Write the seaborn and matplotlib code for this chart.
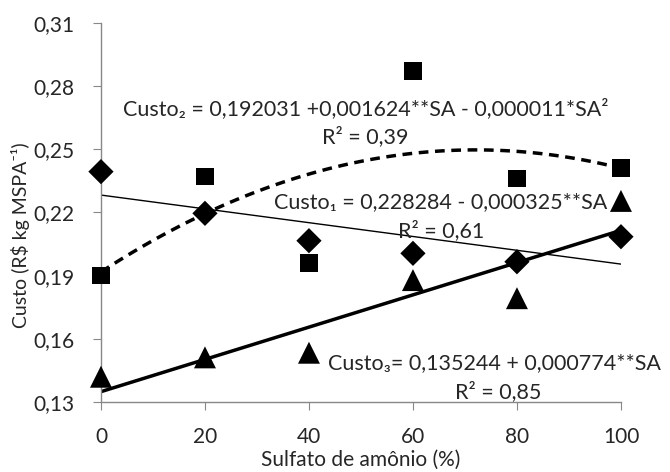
import matplotlib
matplotlib.use("Agg")
import matplotlib.pyplot as plt
import seaborn as sns
import pandas as pd

# Dose of ammonium sulfate (%)
sa = [0, 20, 40, 60, 80, 100]
# Custo (R$ kg MSPA-1)
custo1 = [0.2394, 0.2196, 0.2066, 0.2006, 0.1966, 0.2085]
custo2 = [0.190, 0.2370, 0.1959, 0.2873, 0.2362, 0.2412]
custo3 = [0.1420, 0.1512, 0.1534, 0.1879, 0.1793, 0.2255]

y_ticks = [0.13, 0.16, 0.19, 0.22, 0.25, 0.28, 0.31]
eq1 = "Custo\u2081 = 0,228284 - 0,000325**SA"
eq2 = "Custo\u2082 = 0,192031 +0,001624**SA - 0,000011*SA\u00b2"
eq3 = "Custo\u2083= 0,135244 + 0,000774**SA"
r1, r2, r3 = "R\u00b2 = 0,61", "R\u00b2 = 0,39", "R\u00b2 = 0,85"

df = pd.DataFrame({"SA": sa, "c1": custo1, "c2": custo2, "c3": custo3})

sns.set_style("white")
plt.rcParams["font.family"] = ["Lato", "DejaVu Sans"]

fig = plt.figure(figsize=(6.7, 4.72), dpi=100)
ax = fig.add_axes([0.1507, 0.1483, 0.7761, 0.803])

# trend lines
sns.regplot(data=df, x="SA", y="c1", scatter=False, ci=None, ax=ax,
            line_kws=dict(color="black", lw=1.0))
sns.regplot(data=df, x="SA", y="c2", order=2, scatter=False, ci=None, ax=ax,
            line_kws=dict(color="black", lw=2.5, dashes=(2.8, 1.9)))
sns.regplot(data=df, x="SA", y="c3", scatter=False, ci=None, ax=ax,
            line_kws=dict(color="black", lw=2.5))

# points
sns.scatterplot(data=df, x="SA", y="c1", marker="D", s=165, color="black",
                edgecolor="none", ax=ax, clip_on=False, zorder=5)
sns.scatterplot(data=df, x="SA", y="c2", marker="s", s=160, color="black",
                edgecolor="none", ax=ax, clip_on=False, zorder=5)
sns.scatterplot(data=df, x="SA", y="c3", marker="^", s=250, color="black",
                edgecolor="none", ax=ax, clip_on=False, zorder=5)

fs = 15.5
ax.text(50.9, 0.2695, eq2, ha="center", va="center", fontsize=fs)
ax.text(50.8, 0.2560, r2, ha="center", va="center", fontsize=fs)
ax.text(65.4, 0.2251, eq1, ha="center", va="center", fontsize=fs)
ax.text(65.5, 0.2114, r1, ha="center", va="center", fontsize=fs)
ax.text(75.6, 0.1484, eq3, ha="center", va="center", fontsize=fs)
ax.text(76.4, 0.1349, r3, ha="center", va="center", fontsize=fs)

ax.set_xlim(0, 100)
ax.set_ylim(0.13, 0.31)
ax.set_xticks(sa)
ax.set_yticks(y_ticks)
ax.set_yticklabels([f"{v:.2f}".replace(".", ",") for v in y_ticks])
ax.tick_params(axis="both", labelsize=15, length=6, color="#888888",
               direction="out", left=True, bottom=True)
ax.tick_params(axis="y", pad=13)
ax.tick_params(axis="x", pad=12)
for side in ["top", "right"]:
    ax.spines[side].set_visible(False)
for side in ["left", "bottom"]:
    ax.spines[side].set_color("#888888")
    ax.spines[side].set_linewidth(1.0)

ax.set_xlabel("Sulfato de amônio (%)", fontsize=15, labelpad=2)
ax.set_ylabel("Custo (R$ kg MSPA\u207b\u00b9)", fontsize=14)
ax.yaxis.set_label_coords(-0.137, 0.44)

fig.savefig("out.png", dpi=100)
